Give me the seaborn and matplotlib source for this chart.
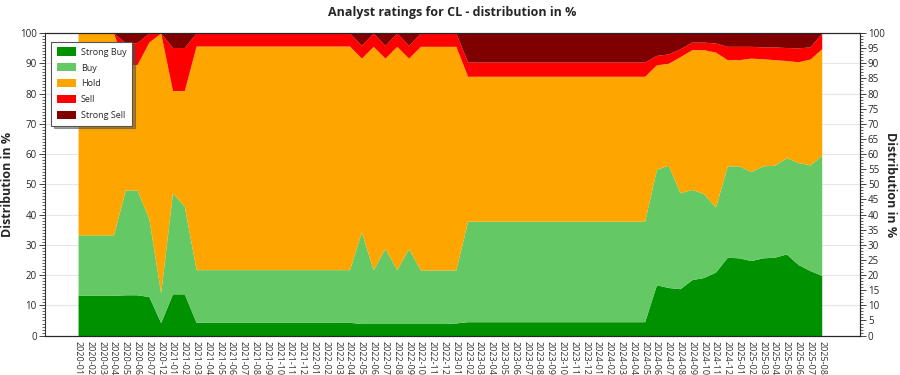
import matplotlib
matplotlib.use('Agg')
import matplotlib.pyplot as plt
from matplotlib.ticker import MultipleLocator
import seaborn as sns
import numpy as np

# months shown on the x axis (2020-08 .. 2020-11 are not in the data)
months = ['2020-01', '2020-02', '2020-03', '2020-04', '2020-05', '2020-06', '2020-07', '2020-12',
          '2021-01', '2021-02', '2021-03', '2021-04', '2021-05', '2021-06', '2021-07', '2021-08',
          '2021-09', '2021-10', '2021-11', '2021-12',
          '2022-01', '2022-02', '2022-03', '2022-04', '2022-05', '2022-06', '2022-07', '2022-08',
          '2022-09', '2022-10', '2022-11', '2022-12',
          '2023-01', '2023-02', '2023-03', '2023-04', '2023-05', '2023-06', '2023-07', '2023-08',
          '2023-09', '2023-10', '2023-11', '2023-12',
          '2024-01', '2024-02', '2024-03', '2024-04', '2024-05', '2024-06', '2024-07', '2024-08',
          '2024-09', '2024-10', '2024-11', '2024-12',
          '2025-01', '2025-02', '2025-03', '2025-04', '2025-05', '2025-06', '2025-07', '2025-08']

strong_buy = [13.3, 13.3, 13.3, 13.3, 13.5, 13.5, 12.9, 4.3,
              13.8, 13.8, 4.4, 4.4, 4.4, 4.4, 4.4, 4.4, 4.4, 4.4, 4.4, 4.4,
              4.4, 4.4, 4.4, 4.4, 4.0, 4.0, 4.0, 4.0, 4.0, 4.0, 4.0, 4.0,
              4.2, 4.6, 4.6, 4.6, 4.6, 4.6, 4.6, 4.6, 4.6, 4.6, 4.6, 4.6,
              4.6, 4.6, 4.6, 4.6, 4.6, 16.8, 15.9, 15.5, 18.5, 19.2, 21.0, 25.9,
              25.7, 24.8, 25.7, 25.9, 27.0, 23.5, 21.5, 19.9]
buy = [20.0, 20.0, 20.0, 20.0, 34.6, 34.6, 25.7, 9.8,
       33.4, 29.0, 17.4, 17.4, 17.4, 17.4, 17.4, 17.4, 17.4, 17.4, 17.4, 17.4,
       17.4, 17.4, 17.4, 17.4, 30.3, 17.8, 24.8, 17.8, 24.8, 17.7, 17.7, 17.7,
       17.5, 33.2, 33.2, 33.2, 33.2, 33.2, 33.2, 33.2, 33.2, 33.2, 33.2, 33.2,
       33.2, 33.2, 33.2, 33.2, 33.2, 38.2, 40.4, 31.7, 29.8, 27.7, 21.5, 30.2,
       30.4, 29.4, 30.4, 30.4, 31.8, 33.7, 34.9, 39.7]
hold = [66.7, 66.7, 66.7, 66.7, 41.5, 41.5, 58.4, 85.9,
        33.8, 38.2, 73.9, 73.9, 73.9, 73.9, 73.9, 73.9, 73.9, 73.9, 73.9, 73.9,
        73.9, 73.9, 73.9, 73.9, 57.4, 73.8, 62.9, 73.8, 62.9, 73.9, 73.9, 73.9,
        73.9, 47.9, 47.9, 47.9, 47.9, 47.9, 47.9, 47.9, 47.9, 47.9, 47.9, 47.9,
        47.9, 47.9, 47.9, 47.9, 47.9, 34.5, 33.7, 45.0, 46.2, 47.6, 51.2, 35.1,
        35.1, 37.5, 35.4, 34.9, 32.1, 33.3, 35.0, 35.2]
sell = [0.0, 0.0, 0.0, 0.0, 7.2, 7.2, 3.0, 0.0,
        14.2, 14.2, 4.3, 4.3, 4.3, 4.3, 4.3, 4.3, 4.3, 4.3, 4.3, 4.3,
        4.3, 4.3, 4.3, 4.3, 4.2, 4.4, 4.2, 4.4, 4.2, 4.4, 4.4, 4.4,
        4.4, 4.7, 4.7, 4.7, 4.7, 4.7, 4.7, 4.7, 4.7, 4.7, 4.7, 4.7,
        4.7, 4.7, 4.7, 4.7, 4.7, 3.1, 3.1, 2.6, 2.5, 2.5, 3.0, 4.4,
        4.4, 3.9, 3.9, 4.2, 4.3, 4.6, 4.0, 5.2]
strong_sell = [0.0, 0.0, 0.0, 0.0, 3.2, 3.2, 0.0, 0.0,
               4.8, 4.8, 0.0, 0.0, 0.0, 0.0, 0.0, 0.0, 0.0, 0.0, 0.0, 0.0,
               0.0, 0.0, 0.0, 0.0, 4.1, 0.0, 4.1, 0.0, 4.1, 0.0, 0.0, 0.0,
               0.0, 9.6, 9.6, 9.6, 9.6, 9.6, 9.6, 9.6, 9.6, 9.6, 9.6, 9.6,
               9.6, 9.6, 9.6, 9.6, 9.6, 7.4, 6.9, 5.2, 3.0, 3.0, 3.3, 4.4,
               4.4, 4.4, 4.6, 4.6, 4.8, 4.9, 4.6, 0.0]

labels = ['Strong Buy', 'Buy', 'Hold', 'Sell', 'Strong Sell']
colors = ['#009100', '#64c864', '#ffa500', '#ff0000', '#800000']

sns.set_style('white')
plt.rcParams['font.family'] = ['Open Sans', 'DejaVu Sans']

fig, ax = plt.subplots(figsize=(9, 3.75), dpi=100)
fig.subplots_adjust(left=0.05, right=0.955, top=0.912, bottom=0.105)

x = np.arange(len(months))
ax.stackplot(x, strong_buy, buy, hold, sell, strong_sell, labels=labels, colors=colors, linewidth=0)

ax.set_xlim(-2.8, len(months) - 1 + 3.2)
ax.set_ylim(0, 100)
ax.set_xticks(x)
ax.set_xticklabels(months, rotation=-90, fontsize=6.5, color='#333333')
ax.yaxis.set_major_locator(MultipleLocator(10))
ax.yaxis.set_minor_locator(MultipleLocator(1))
ax.tick_params(axis='y', which='major', length=4, labelsize=7, width=0.6, pad=2)
ax.tick_params(axis='y', which='minor', length=2, width=0.5)
ax.tick_params(axis='x', length=3, width=0.5, pad=1)
ax.grid(axis='y', color='#e6e6e6', linewidth=0.8)
ax.set_axisbelow(True)
ax.set_ylabel('Distribution in %', fontsize=9, fontweight='bold', labelpad=4)
for s in ax.spines.values():
    s.set_linewidth(0.8)
    s.set_color('#333333')

ax2 = ax.twinx()
ax2.set_ylim(0, 100)
ax2.yaxis.set_major_locator(MultipleLocator(5))
ax2.yaxis.set_minor_locator(MultipleLocator(1))
ax2.tick_params(axis='y', which='major', length=4, labelsize=7, width=0.6, pad=2)
ax2.tick_params(axis='y', which='minor', length=2, width=0.5)
ax2.set_ylabel('Distribution in %', fontsize=9, fontweight='bold', rotation=-90, labelpad=9)
ax2.spines['right'].set_linestyle(':')
ax2.spines['left'].set_visible(False)

ax.set_title('Analyst ratings for CL - distribution in %', fontsize=9, fontweight='bold', pad=12)

leg = ax.legend(loc='upper left', bbox_to_anchor=(0.002, 0.985), fontsize=6.5, frameon=True,
                fancybox=False, shadow=True, handlelength=2.2, handleheight=1.0,
                labelspacing=0.75, borderpad=0.6, handletextpad=0.5)
leg.get_frame().set_edgecolor('#555555')
leg.get_frame().set_linewidth(0.8)

plt.savefig('out.png', dpi=100)
